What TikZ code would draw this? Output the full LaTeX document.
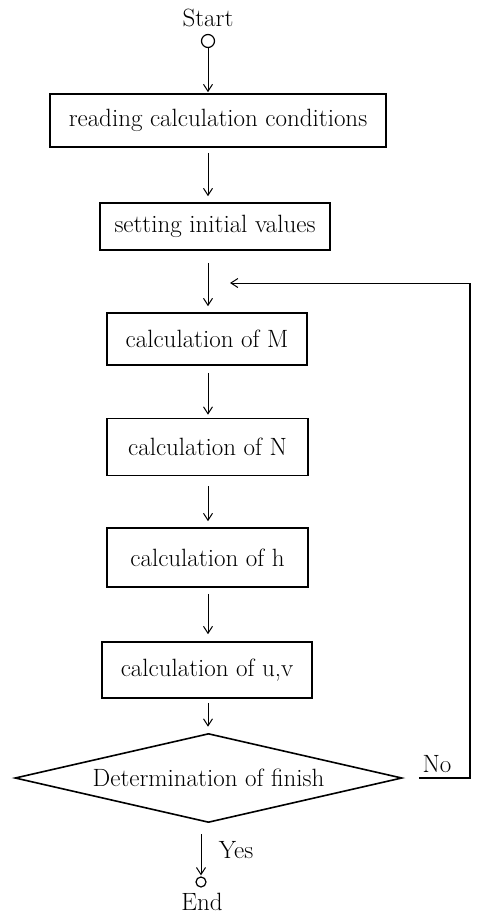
\documentclass[tikz,border=0pt]{standalone}
\usetikzlibrary{shapes.geometric,arrows.meta}
\begin{document}
\begin{tikzpicture}[x=1pt,y=-1pt,
  txt/.style={font=\fontsize{25}{30}\selectfont},
  box/.style={draw,line width=1.6pt,inner sep=0pt,txt},
  arr/.style={-{Straight Barb[length=7pt,width=9pt]},line width=1pt},
  term/.style={draw,circle,inner sep=0pt,line width=1.2pt}]
\useasboundingbox (0,0) rectangle (477,916);
\node[txt] (start) at (208,18) {Start};
\node[term,minimum size=13pt] (sc) at (208,41) {};
\node[box,minimum width=336pt,minimum height=53pt] (b1) at (218,120.5) {reading calculation conditions};
\node[box,minimum width=230pt,minimum height=47pt] (b2) at (215,226.5) {setting initial values};
\node[box,minimum width=200pt,minimum height=52pt] (b3) at (207,339) {calculation of M};
\node[box,minimum width=201pt,minimum height=57pt] (b4) at (207.5,447) {calculation of N};
\node[box,minimum width=201pt,minimum height=59pt] (b5) at (207.5,557.5) {calculation of h};
\node[box,minimum width=210pt,minimum height=56pt] (b6) at (207,670) {calculation of u,v};
\node[box,shape=diamond,aspect=4.35,minimum width=387pt,minimum height=89pt] (d) at (208.5,778) {Determination of finish};
\node[term,minimum size=10pt] (ec) at (201,882) {};
\node[txt] (end) at (202,902) {End};
\node[txt] (yes) at (236,850) {Yes};
\node[txt] (no) at (437,764) {No};
\coordinate (rr) at (470,0);
\coordinate (fb) at (230,283);
\draw[arr,shorten >=1pt] (sc.south) -- (b1.north -| sc);
\draw[arr,shorten <=5pt,shorten >=6pt] (b1.south -| sc) -- (b2.north -| sc);
\draw[arr,shorten <=12pt,shorten >=6pt] (b2.south -| sc) -- (b3.north -| sc);
\draw[arr,shorten <=7pt,shorten >=3pt] (b3.south -| sc) -- (b4.north -| sc);
\draw[arr,shorten <=10pt,shorten >=6pt] (b4.south -| sc) -- (b5.north -| sc);
\draw[arr,shorten <=6pt,shorten >=7pt] (b5.south -| sc) -- (b6.north -| sc);
\draw[arr,shorten <=4pt,shorten >=6pt] (b6.south -| sc) -- (d.north -| sc);
\draw[arr,shorten <=11pt,shorten >=1pt] (d.south -| ec) -- (ec.north);
\draw[line width=1.6pt] ([xshift=16pt]d.east) -- (d.east -| rr) -- (rr |- fb);
\draw[arr] (rr |- fb) -- (fb);
\end{tikzpicture}
\end{document}
